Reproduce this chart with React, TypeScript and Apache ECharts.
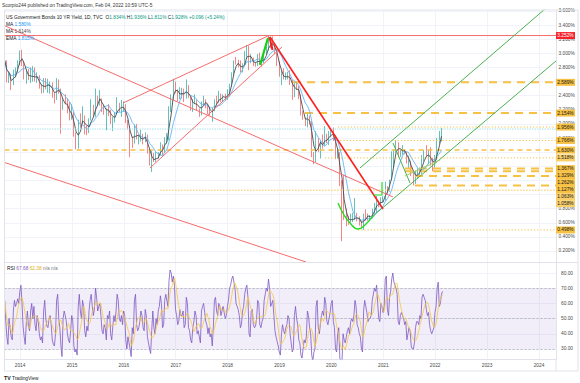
import React, { useEffect, useRef } from 'react';
import * as echarts from 'echarts';

// ---------- time base (half-month periods, decimal years) ----------
const firstPeriod = 2013.705;
const periodStep = 1 / 24;
const firstOpen = 2.78;

// ---------- US 10Y yield, half-monthly closes / highs / lows ----------
const close2013 = [2.90, 2.62, 2.67, 2.55, 2.71, 2.75, 2.86, 3.03];
const high2013 = [3.00, 2.90, 2.74, 2.70, 2.77, 2.80, 2.90, 3.04];
const low2013 = [2.78, 2.59, 2.58, 2.48, 2.55, 2.66, 2.73, 2.83];

const close2014 = [2.88, 2.67, 2.74, 2.65, 2.65, 2.72, 2.63, 2.65, 2.53, 2.47, 2.60, 2.53, 2.53, 2.56, 2.42, 2.35, 2.60, 2.49, 2.20, 2.34, 2.32, 2.17, 2.08, 2.17];
const high2014 = [3.05, 2.89, 2.77, 2.78, 2.80, 2.82, 2.80, 2.73, 2.69, 2.56, 2.65, 2.65, 2.64, 2.60, 2.59, 2.44, 2.65, 2.63, 2.50, 2.36, 2.42, 2.36, 2.31, 2.28];
const low2014 = [2.82, 2.63, 2.57, 2.62, 2.58, 2.60, 2.60, 2.58, 2.50, 2.43, 2.44, 2.49, 2.44, 2.43, 2.37, 2.29, 2.34, 2.43, 1.86, 2.20, 2.28, 2.15, 2.05, 2.06];

const close2015 = [1.84, 1.66, 2.02, 2.00, 2.11, 1.93, 1.90, 2.05, 2.14, 2.10, 2.36, 2.35, 2.36, 2.20, 2.19, 2.21, 2.19, 2.04, 2.09, 2.14, 2.28, 2.21, 2.22, 2.27];
const high2015 = [2.12, 1.88, 2.06, 2.15, 2.25, 2.12, 1.98, 2.08, 2.35, 2.27, 2.50, 2.40, 2.48, 2.36, 2.27, 2.22, 2.28, 2.20, 2.10, 2.17, 2.38, 2.30, 2.34, 2.32];
const low2015 = [1.82, 1.64, 1.65, 1.95, 2.07, 1.85, 1.84, 1.87, 2.09, 2.11, 2.15, 2.26, 2.26, 2.17, 2.13, 1.91, 2.11, 2.00, 1.90, 2.02, 2.15, 2.17, 2.10, 2.17];

const close2016 = [2.03, 1.92, 1.75, 1.74, 1.97, 1.78, 1.78, 1.83, 1.75, 1.85, 1.61, 1.47, 1.55, 1.46, 1.51, 1.58, 1.70, 1.60, 1.80, 1.83, 2.22, 2.37, 2.60, 2.45];
const high2016 = [2.28, 2.06, 1.97, 1.82, 1.99, 2.00, 1.84, 1.92, 1.86, 1.88, 1.76, 1.65, 1.62, 1.59, 1.61, 1.60, 1.74, 1.71, 1.81, 1.87, 2.25, 2.42, 2.64, 2.60];
const low2016 = [2.01, 1.93, 1.53, 1.66, 1.72, 1.80, 1.71, 1.75, 1.71, 1.74, 1.58, 1.41, 1.32, 1.46, 1.49, 1.51, 1.56, 1.56, 1.59, 1.72, 1.77, 2.17, 2.34, 2.44];

const close2017 = [2.37, 2.45, 2.47, 2.36, 2.53, 2.40, 2.24, 2.28, 2.34, 2.21, 2.16, 2.30, 2.33, 2.29, 2.19, 2.12, 2.20, 2.33, 2.30, 2.38, 2.37, 2.41, 2.35, 2.41];
const high2017 = [2.49, 2.52, 2.51, 2.50, 2.63, 2.55, 2.39, 2.35, 2.42, 2.33, 2.22, 2.32, 2.40, 2.35, 2.28, 2.24, 2.23, 2.35, 2.40, 2.47, 2.43, 2.42, 2.43, 2.49];
const low2017 = [2.32, 2.35, 2.36, 2.31, 2.44, 2.37, 2.19, 2.17, 2.28, 2.19, 2.10, 2.12, 2.27, 2.22, 2.14, 2.12, 2.03, 2.18, 2.27, 2.32, 2.31, 2.31, 2.33, 2.34];

const close2018 = [2.55, 2.72, 2.87, 2.86, 2.85, 2.74, 2.83, 2.95, 3.07, 2.86, 2.92, 2.86, 2.83, 2.96, 2.87, 2.86, 2.99, 3.06, 3.16, 3.14, 3.11, 3.01, 2.89, 2.69];
const high2018 = [2.57, 2.73, 2.90, 2.95, 2.91, 2.90, 2.86, 3.03, 3.12, 3.11, 2.99, 2.94, 2.88, 2.99, 3.01, 2.89, 3.00, 3.10, 3.26, 3.20, 3.24, 3.13, 2.99, 2.86];
const low2018 = [2.40, 2.53, 2.69, 2.84, 2.80, 2.73, 2.73, 2.82, 2.95, 2.76, 2.88, 2.82, 2.81, 2.82, 2.85, 2.81, 2.86, 2.98, 3.04, 3.07, 3.06, 2.99, 2.82, 2.67];

const close2019 = [2.71, 2.63, 2.66, 2.72, 2.59, 2.41, 2.56, 2.51, 2.39, 2.12, 2.09, 2.00, 2.12, 2.02, 1.54, 1.50, 1.80, 1.67, 1.75, 1.69, 1.83, 1.78, 1.82, 1.92];
const high2019 = [2.76, 2.79, 2.73, 2.74, 2.76, 2.62, 2.60, 2.60, 2.54, 2.42, 2.18, 2.09, 2.15, 2.10, 2.04, 1.60, 1.90, 1.78, 1.77, 1.85, 1.97, 1.86, 1.90, 1.94];
const low2019 = [2.55, 2.64, 2.62, 2.63, 2.55, 2.34, 2.38, 2.48, 2.35, 2.12, 2.06, 1.97, 1.95, 1.99, 1.53, 1.43, 1.46, 1.60, 1.51, 1.65, 1.73, 1.73, 1.70, 1.81];

const close2020 = [1.82, 1.51, 1.59, 1.15, 0.96, 0.67, 0.65, 0.64, 0.64, 0.65, 0.70, 0.66, 0.62, 0.53, 0.72, 0.70, 0.67, 0.68, 0.75, 0.86, 0.90, 0.84, 0.92, 0.92];
const high2020 = [1.95, 1.84, 1.65, 1.60, 1.20, 1.28, 0.80, 0.70, 0.73, 0.74, 0.95, 0.74, 0.69, 0.62, 0.73, 0.79, 0.73, 0.71, 0.80, 0.88, 0.98, 0.91, 0.96, 0.98];
const low2020 = [1.76, 1.50, 1.51, 1.12, 0.34, 0.64, 0.55, 0.57, 0.60, 0.61, 0.64, 0.62, 0.56, 0.52, 0.50, 0.63, 0.63, 0.63, 0.66, 0.73, 0.74, 0.82, 0.83, 0.89];

const close2021 = [1.11, 1.07, 1.20, 1.44, 1.62, 1.74, 1.58, 1.63, 1.64, 1.59, 1.45, 1.47, 1.30, 1.24, 1.28, 1.30, 1.37, 1.49, 1.57, 1.56, 1.56, 1.44, 1.41, 1.51];
const high2021 = [1.18, 1.12, 1.21, 1.61, 1.64, 1.77, 1.74, 1.64, 1.70, 1.64, 1.60, 1.55, 1.48, 1.32, 1.34, 1.37, 1.38, 1.56, 1.63, 1.70, 1.64, 1.67, 1.52, 1.56];
const low2021 = [0.91, 1.01, 1.04, 1.20, 1.38, 1.60, 1.53, 1.53, 1.56, 1.57, 1.44, 1.37, 1.26, 1.13, 1.15, 1.22, 1.25, 1.29, 1.47, 1.53, 1.43, 1.41, 1.33, 1.38];

const close2022 = [1.77, 1.78, 1.93];
const high2022 = [1.80, 1.90, 1.94];
const low2022 = [1.49, 1.72, 1.75];

// ---------- RSI(14), two readings per half-month ----------
const rsiFirst = 2013.704;
const rsiStep = 1 / 48;
const rsi2013 = [62, 48, 38, 33, 50, 44, 38, 36, 55, 62, 58, 60, 63, 60, 68, 72];
const rsi2014 = [60, 45, 38, 33, 48, 55, 45, 42, 55, 60, 50, 58, 46, 42, 52, 48, 40, 36, 38, 34, 55, 62, 50, 45, 44, 50, 52, 46, 36, 33, 32, 40, 62, 66, 50, 44, 32, 25, 50, 55, 52, 48, 40, 36, 34, 42, 52, 48];
const rsi2015 = [32, 28, 30, 26, 58, 66, 55, 50, 62, 58, 42, 38, 45, 42, 55, 62, 66, 58, 52, 56, 70, 64, 55, 58, 60, 52, 42, 40, 46, 44, 36, 52, 50, 55, 40, 36, 45, 52, 48, 55, 66, 62, 50, 48, 52, 46, 55, 52];
const rsi2016 = [36, 30, 38, 34, 30, 25, 44, 40, 62, 66, 46, 42, 44, 48, 55, 52, 44, 42, 56, 52, 38, 34, 30, 27, 42, 55, 44, 40, 50, 46, 55, 58, 65, 60, 44, 46, 62, 66, 62, 58, 75, 82, 80, 74, 78, 72, 56, 52];
const rsi2017 = [46, 48, 56, 52, 52, 55, 44, 46, 64, 60, 44, 42, 36, 34, 44, 48, 55, 52, 40, 42, 38, 34, 55, 58, 60, 54, 48, 46, 40, 44, 38, 40, 32, 45, 62, 64, 55, 52, 60, 58, 52, 55, 58, 54, 50, 52, 58, 62];
const rsi2018 = [70, 72, 76, 78, 74, 70, 60, 58, 56, 52, 44, 46, 55, 58, 66, 70, 72, 64, 40, 38, 55, 56, 46, 44, 45, 50, 62, 60, 46, 44, 48, 50, 62, 66, 70, 68, 76, 70, 58, 60, 62, 52, 42, 38, 35, 32, 28, 26];
const rsi2019 = [40, 46, 42, 40, 44, 46, 52, 50, 40, 34, 28, 30, 52, 58, 50, 46, 36, 34, 26, 24, 30, 36, 34, 38, 55, 52, 44, 40, 26, 22, 28, 30, 58, 62, 44, 40, 46, 52, 55, 52, 64, 60, 48, 46, 50, 54, 60, 62];
const rsi2020 = [48, 44, 30, 28, 40, 44, 24, 22, 22, 40, 36, 34, 38, 42, 44, 40, 48, 50, 48, 52, 62, 58, 46, 44, 40, 38, 30, 28, 55, 62, 58, 54, 48, 50, 50, 52, 62, 66, 70, 68, 72, 60, 50, 48, 60, 58, 54, 58];
const rsi2021 = [76, 78, 56, 52, 64, 68, 76, 80, 74, 72, 70, 66, 48, 46, 52, 54, 52, 50, 46, 48, 36, 40, 44, 42, 32, 30, 30, 34, 44, 48, 48, 46, 52, 50, 64, 66, 64, 62, 56, 52, 54, 46, 42, 40, 42, 44, 54, 58];
const rsi2022 = [70, 74, 58, 60, 66, 68];

// ---------- axes ----------
const yearTicks = [2014, 2015, 2016, 2017, 2018, 2019, 2020, 2021, 2022, 2023, 2024];
const priceTicks = [0.2, 0.4, 0.6, 0.8, 1.0, 1.2, 1.4, 1.6, 1.8, 2.0, 2.2, 2.4, 2.6, 2.8, 3.0, 3.2, 3.4, 3.6];
const priceTickLabels = [0.2, 0.4, 0.6, 0.8, 1.8, 2.0, 2.2, 2.4, 2.8, 3.0, 3.2, 3.4, 3.6];
const rsiTicks = [30, 40, 50, 60, 70, 80];
const xMin = 2013.70;
const xMax = 2024.328;
const yMin = 0.044;
const yMax = 3.614;
const rsiMin = 23.4;
const rsiMax = 86.6;

// ---------- drawings: [decimal year, yield %] anchors ----------
const lineA = [[2013.70, 3.392], [2021.187, 0.965]];
const lineB = [[2013.70, 1.454], [2019.51, 0.044]];
const lineC = [[2016.504, 1.376], [2019.048, 3.090]];
const lineD = [[2015.984, 2.297], [2018.778, 3.246]];
const lineE = [[2018.817, 3.232], [2020.994, 0.795]];
const greenSpike = [[2018.624, 2.835], [2018.778, 3.217]];
const redSpike = [[2018.807, 3.232], [2018.865, 3.047]];
const channelUpper = [[2020.551, 1.376], [2024.116, 3.628]];
const channelLower = [[2020.802, 0.696], [2024.328, 2.892]];
const bottomArc = [[2020.127, 0.880], [2020.243, 0.710], [2020.358, 0.597], [2020.512, 0.512], [2020.647, 0.568], [2020.802, 0.696]];
const greenV = [[2021.187, 1.730], [2021.515, 1.163]];
const greenRise = [[2021.418, 1.262], [2022.093, 1.489]];
const greenStep = [[2020.802, 0.993], [2020.975, 0.993], [2020.975, 1.177]];

const resistanceLevel = 3.252;
const lastPrice = 1.928;
const levelValues = [2.589, 2.154, 1.956, 1.766, 1.630, 1.518, 1.367, 1.329, 1.262, 1.127, 1.063, 1.058, 0.498];
const levelStarts = [2019.260, 2019.491, 2020.127, 2020.108, 2013.70, 2019.877, 2021.418, 2021.418, 2021.611, 2021.611, 2016.697, 2016.697, 2020.512];
const levelKinds = ['dash', 'dash', 'dot', 'dot', 'mid', 'dot', 'dash', 'dash', 'dash', 'dash', 'faint', 'faint', 'dot'];

const FONT = 'Liberation Sans, Arial, sans-serif';
const FS = 4.8;

function sma(arr: number[], n: number): number[] {
  return arr.map((_, i) => {
    const w = arr.slice(Math.max(0, i - n + 1), i + 1);
    return w.reduce((a, b) => a + b, 0) / w.length;
  });
}

export default function App() {
  const ref = useRef<HTMLDivElement>(null);

  useEffect(() => {
    if (!ref.current) return;
    const chart = echarts.init(ref.current, null, { renderer: 'svg', width: 580, height: 383 });

    const closes = [...close2013, ...close2014, ...close2015, ...close2016, ...close2017, ...close2018, ...close2019, ...close2020, ...close2021, ...close2022];
    const highs = [...high2013, ...high2014, ...high2015, ...high2016, ...high2017, ...high2018, ...high2019, ...high2020, ...high2021, ...high2022];
    const lows = [...low2013, ...low2014, ...low2015, ...low2016, ...low2017, ...low2018, ...low2019, ...low2020, ...low2021, ...low2022];
    const rsi = [...rsi2013, ...rsi2014, ...rsi2015, ...rsi2016, ...rsi2017, ...rsi2018, ...rsi2019, ...rsi2020, ...rsi2021, ...rsi2022];

    const times = closes.map((_, i) => firstPeriod + i * periodStep);
    const candles = closes.map((c, i) => {
      const o = i === 0 ? firstOpen : closes[i - 1];
      return [times[i], o, c, Math.min(lows[i], o, c), Math.max(highs[i], o, c)];
    });
    const maFast = sma(closes, 3).map((v, i) => [times[i], v]);
    const maSlow = sma(closes, 7).map((v, i) => [times[i], v]);
    const rsiTimes = rsi.map((_, j) => rsiFirst + j * rsiStep);
    const rsiLine = rsi.map((v, j) => [rsiTimes[j], v]);
    const rsiMa = sma(rsi, 6).map((v, j) => [rsiTimes[j], v]);

    const ORANGE = '#f7c143';
    const lineSeries = (data: number[][], color: string, width: number, type: any = 'solid', smooth = false, z = 5) => ({
      type: 'line', xAxisIndex: 0, yAxisIndex: 0, data, symbol: 'none', smooth, silent: true, z,
      lineStyle: { color, width, type },
    });

    const levelStyle: Record<string, { w: number; t: any; c: string }> = {
      dash: { w: 2, t: [8, 6], c: ORANGE },
      mid: { w: 1.4, t: [5, 4], c: ORANGE },
      dot: { w: 1, t: [1.2, 2], c: ORANGE },
      faint: { w: 1, t: [1.5, 1.5], c: '#fbd98c' },
    };

    const series: any[] = [
      {
        type: 'candlestick', xAxisIndex: 0, yAxisIndex: 0, data: candles, barWidth: 1.3, z: 3,
        itemStyle: { color: '#26a69a', color0: '#ef5350', borderColor: '#26a69a', borderColor0: '#ef5350', borderWidth: 0.7 },
      },
      lineSeries(maSlow, '#64b5f6', 0.9),
      lineSeries(maFast, '#4a4a52', 0.9),
      lineSeries([[xMin, lastPrice], [xMax, lastPrice]], '#a9e2ea', 1, [1.5, 1]),
      lineSeries([[xMin, resistanceLevel], [xMax, resistanceLevel]], '#f56c6c', 1),
      ...levelValues.map((v, i) => {
        const s = levelStyle[levelKinds[i]];
        return lineSeries([[levelStarts[i], v], [xMax, v]], s.c, s.w, s.t, false, 4);
      }),
      lineSeries(lineA, '#f56c6c', 1),
      lineSeries(lineB, '#f56c6c', 1),
      lineSeries(lineC, '#f56c6c', 1),
      lineSeries(lineD, '#f56c6c', 1),
      lineSeries(lineE, '#ff1f1f', 1.6, 'solid', false, 7),
      lineSeries(greenSpike, '#12d312', 2.2, 'solid', false, 7),
      lineSeries(redSpike, '#ff1f1f', 2, 'solid', false, 7),
      lineSeries(channelUpper, '#4caf50', 1),
      lineSeries(channelLower, '#4caf50', 1),
      lineSeries(bottomArc, '#22dd22', 1.4, 'solid', true, 7),
      lineSeries(greenV, '#4caf50', 1),
      lineSeries(greenRise, '#9ccc65', 1),
      lineSeries(greenStep, '#22dd22', 1.2, 'solid', false, 7),
      {
        type: 'line', xAxisIndex: 1, yAxisIndex: 1, data: rsiLine, symbol: 'none', silent: true, z: 4,
        lineStyle: { color: '#7e57c2', width: 0.8 },
        markArea: { silent: true, itemStyle: { color: 'rgba(126,87,194,0.1)' }, data: [[{ yAxis: 70 }, { yAxis: 30 }]] },
        markLine: {
          silent: true, symbol: 'none', label: { show: false },
          lineStyle: { color: '#9598a1', type: [2, 2], width: 0.6 },
          data: [{ yAxis: 70 }, { yAxis: 50 }, { yAxis: 30 }],
        },
      },
      {
        type: 'line', xAxisIndex: 1, yAxisIndex: 1, data: rsiMa, symbol: 'none', silent: true, z: 5,
        lineStyle: { color: '#f5c542', width: 0.8 },
      },
    ];

    const gridLine = { show: true, lineStyle: { color: '#f0f3fa', width: 1 } };
    const option: any = {
      animation: false,
      backgroundColor: '#ffffff',
      textStyle: { fontFamily: FONT },
      grid: [
        { left: 4.5, right: 24, top: 10, height: 252 },
        { left: 4.5, right: 24, top: 263, height: 96 },
      ],
      xAxis: [
        {
          type: 'value', gridIndex: 0, min: xMin, max: xMax,
          axisLine: { show: false }, axisTick: { show: false, customValues: yearTicks },
          axisLabel: { show: false, customValues: yearTicks }, splitLine: gridLine,
        },
        {
          type: 'value', gridIndex: 1, min: xMin, max: xMax,
          axisLine: { show: true, lineStyle: { color: '#e0e3eb', width: 1 } },
          axisTick: { show: false, customValues: yearTicks },
          axisLabel: { show: true, customValues: yearTicks, formatter: (v: number) => String(Math.round(v)), fontSize: FS, color: '#4a4a4a', margin: 3.5, fontFamily: FONT },
          splitLine: gridLine,
        },
      ],
      yAxis: [
        {
          type: 'value', gridIndex: 0, position: 'right', min: yMin, max: yMax,
          axisLine: { show: true, lineStyle: { color: '#e0e3eb', width: 1 } },
          axisTick: { show: false, customValues: priceTicks },
          axisLabel: { customValues: priceTickLabels, formatter: (v: number) => v.toFixed(3) + '%', fontSize: FS, color: '#4a4a4a', margin: 2.5, fontFamily: FONT },
          splitLine: gridLine,
        },
        {
          type: 'value', gridIndex: 1, position: 'right', min: rsiMin, max: rsiMax,
          axisLine: { show: true, lineStyle: { color: '#e0e3eb', width: 1 } },
          axisTick: { show: false, customValues: rsiTicks },
          axisLabel: { customValues: rsiTicks, formatter: (v: number) => v.toFixed(2), fontSize: FS, color: '#4a4a4a', margin: 5, fontFamily: FONT },
          splitLine: gridLine,
        },
      ],
      series,
    };
    chart.setOption(option);

    // axis badges for drawn levels, stacked like the trading platform does
    const yPix = (v: number) => chart.convertToPixel({ yAxisIndex: 0 } as any, v) as number;
    const order = levelValues.map((v, i) => i).sort((a, b) => levelValues[b] - levelValues[a]);
    const badgeY: number[] = [];
    let prev = -100;
    order.forEach((i) => {
      let y = yPix(levelValues[i]);
      if (y < prev + 7) y = prev + 7;
      badgeY[i] = y;
      prev = y;
    });
    const axisX = 556;
    const badge = (v: number, y: number, bg: string, fg: string, id: string) => ({
      type: 'group', id, z: 50,
      children: [
        { type: 'rect', shape: { x: axisX, y: y - 3.5, width: 19, height: 7 }, style: { fill: bg }, z: 50 },
        { type: 'text', x: axisX + 9.5, y, z: 51, style: { text: v.toFixed(3) + '%', fill: fg, fontSize: FS, fontFamily: FONT, align: 'center', verticalAlign: 'middle' } },
      ],
    });

    const graphics: any[] = [
      { type: 'rect', z: 40, shape: { x: 4.5, y: 10, width: 573.5, height: 361 }, style: { fill: 'none', stroke: '#e0e3eb', lineWidth: 1 }, silent: true },
      { type: 'line', z: 40, shape: { x1: 4.5, y1: 262.5, x2: 578, y2: 262.5 }, style: { stroke: '#e0e3eb', lineWidth: 1 } },
      { type: 'line', z: 40, shape: { x1: 556, y1: 359, x2: 556, y2: 371 }, style: { stroke: '#e0e3eb', lineWidth: 1 } },
      { type: 'text', x: 2, y: 5.5, z: 40, style: { text: 'Scorpio244 published on TradingView.com, Feb 04, 2022 10:59 UTC-5', fill: '#333', fontSize: FS, fontFamily: FONT, verticalAlign: 'middle' } },
      {
        type: 'text', x: 6, y: 17, z: 40,
        style: {
          text: '{t|US Government Bonds 10 YR Yield, 1D, TVC}  {k|O}{v|1.834%} {k|H}{v|1.936%} {k|L}{v|1.811%} {k|C}{v|1.928%} {v|+0.096 (+5.24%)}',
          fontSize: FS, fontFamily: FONT, verticalAlign: 'middle',
          rich: { t: { fill: '#131722', fontSize: FS }, k: { fill: '#131722', fontSize: FS }, v: { fill: '#089981', fontSize: FS } },
        },
      },
      { type: 'text', x: 6, y: 24.5, z: 40, style: { text: '{k|MA} {v|1.580%}', fontSize: FS, fontFamily: FONT, verticalAlign: 'middle', rich: { k: { fill: '#131722', fontSize: FS }, v: { fill: '#2196f3', fontSize: FS } } } },
      { type: 'text', x: 6, y: 31.5, z: 40, style: { text: '{k|MA} {v|1.614%}', fontSize: FS, fontFamily: FONT, verticalAlign: 'middle', rich: { k: { fill: '#131722', fontSize: FS }, v: { fill: '#4a4a52', fontSize: FS } } } },
      { type: 'text', x: 6, y: 38.5, z: 40, style: { text: '{k|EMA} {v|1.815%}', fontSize: FS, fontFamily: FONT, verticalAlign: 'middle', rich: { k: { fill: '#131722', fontSize: FS }, v: { fill: '#2196f3', fontSize: FS } } } },
      {
        type: 'text', x: 7, y: 268.5, z: 40,
        style: {
          text: '{k|RSI} {a|67.68} {b|62.38} {c|n/a n/a}', fontSize: FS, fontFamily: FONT, verticalAlign: 'middle',
          rich: { k: { fill: '#131722', fontSize: FS }, a: { fill: '#7e57c2', fontSize: FS }, b: { fill: '#e0b020', fontSize: FS }, c: { fill: '#787b86', fontSize: FS } },
        },
      },
      {
        type: 'text', x: 4, y: 378, z: 40,
        style: { text: '{l|TV} {n|TradingView}', fontSize: FS, fontFamily: FONT, verticalAlign: 'middle', rich: { l: { fill: '#131722', fontSize: 5.2, fontWeight: 'bold' }, n: { fill: '#131722', fontSize: FS } } },
      },
      badge(resistanceLevel, yPix(resistanceLevel), '#f7202a', '#ffffff', 'badge-res'),
      ...levelValues.map((v, i) => badge(v, badgeY[i], i === 5 || (i >= 10 && i <= 11) ? '#f9cf6a' : ORANGE, '#131722', 'badge-' + i)),
    ];
    chart.setOption({ graphic: graphics });

    return () => chart.dispose();
  }, []);

  return <div ref={ref} style={{ position: 'absolute', left: 0, top: 0, width: 580, height: 383, background: '#fff' }} />;
}
